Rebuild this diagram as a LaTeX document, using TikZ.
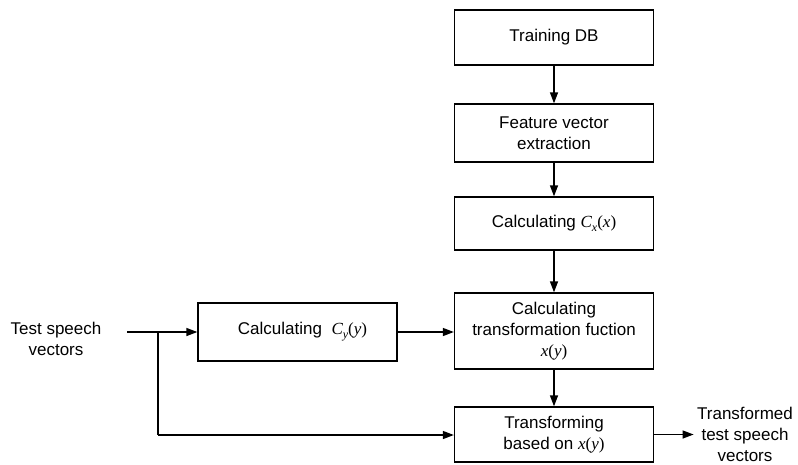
\documentclass[tikz,border=0pt]{standalone}
\usepackage{fontspec}
\setmainfont{Liberation Sans}
\newfontfamily\serifmath{Liberation Serif}
\newcommand{\mi}[1]{{\serifmath\itshape #1}}
\newcommand{\mr}[1]{{\serifmath #1}}
\newcommand{\msub}[1]{\raisebox{-4pt}{\fontsize{12}{12}\selectfont\mi{#1}}}
\usetikzlibrary{arrows.meta}
\begin{document}
\begin{tikzpicture}[x=1pt,y=-1pt,
  blk/.style={draw,line width=1.3pt,inner sep=0pt,align=center,font=\fontsize{17}{21}\selectfont},
  lbl/.style={align=center,font=\fontsize{17}{21}\selectfont},
  con/.style={line width=1.3pt,-{Triangle[length=11pt,width=8pt]}},
  ln/.style={line width=1.3pt}]
\useasboundingbox (0,0) rectangle (798,464);
\node[blk,minimum width=199pt,minimum height=55pt] (db) at (554,37.5) {Training DB};
\node[blk,minimum width=199pt,minimum height=58pt] (fe) at (554,133) {Feature vector\\extraction};
\node[blk,minimum width=199pt,minimum height=53pt] (cx) at (554,223.5) {Calculating \mi{C}\msub{x}\mr{(}\mi{x}\mr{)}};
\node[blk,minimum width=199pt,minimum height=76pt] (tf) at (554,331) {Calculating\\transformation fuction\\\mi{x}\mr{(}\mi{y}\mr{)}};
\node[blk,minimum width=199pt,minimum height=55pt] (tr) at (554,434.5) {Transforming\\based on \mi{x}\mr{(}\mi{y}\mr{)}};
\node[blk,minimum width=199pt,minimum height=58pt] (cy) at (297.5,332) {\hspace*{10pt}Calculating\ \ \mi{C}\msub{y}\mr{(}\mi{y}\mr{)}};
\node[lbl] (in) at (56,339) {Test speech\\vectors};
\node[lbl] (out) at (745,434) {Transformed\\test speech\\vectors};
\coordinate (s) at (127,332);
\coordinate (b) at (158,332);
\coordinate (bd) at (158,435);
\draw[con] (db) -- (fe);
\draw[con] (fe) -- (cx);
\draw[con] (cx) -- (tf);
\draw[con] (tf) -- (tr);
\draw[con] (s) -- (cy);
\draw[con] (cy) -- (cy -| tf.west);
\draw[ln] (b) -- (bd);
\draw[con] (bd) -- (bd -| tr.west);
\draw[con] (tr.east) -- (tr.east -| out.west);
\end{tikzpicture}
\end{document}
